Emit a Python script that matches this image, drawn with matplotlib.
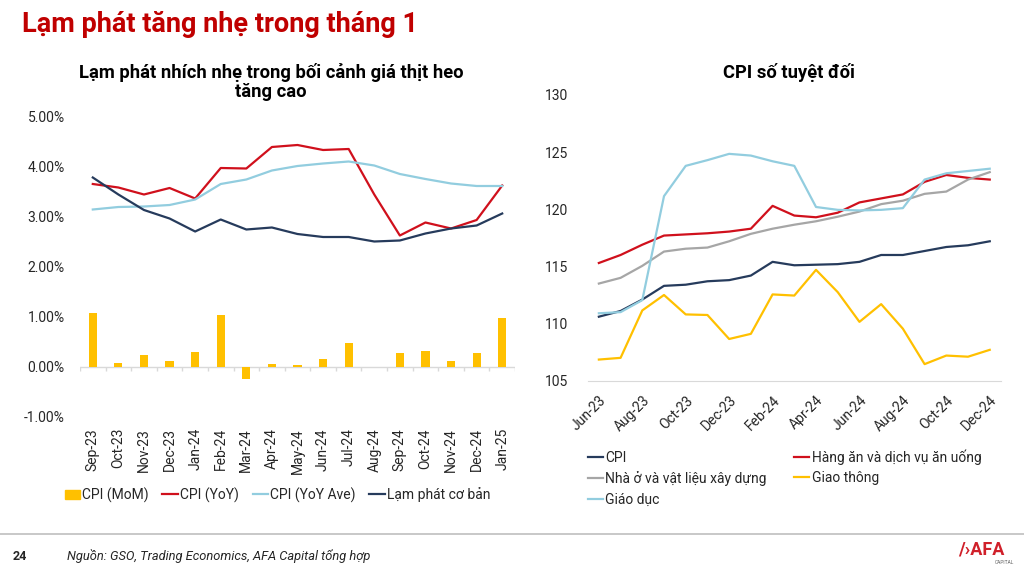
import numpy as np
import matplotlib
matplotlib.use("Agg")
import matplotlib.pyplot as plt
from matplotlib.patches import Patch
from matplotlib.lines import Line2D

plt.rcParams['font.family'] = ['Roboto', 'DejaVu Sans']

# ---- left chart data (%) ----
months_left = ['Sep-23', 'Oct-23', 'Nov-23', 'Dec-23', 'Jan-24', 'Feb-24', 'Mar-24',
               'Apr-24', 'May-24', 'Jun-24', 'Jul-24', 'Aug-24', 'Sep-24', 'Oct-24',
               'Nov-24', 'Dec-24', 'Jan-25']
cpi_mom = [1.08, 0.08, 0.25, 0.12, 0.31, 1.04, -0.23, 0.07, 0.05, 0.17, 0.48, 0.00,
           0.29, 0.33, 0.13, 0.29, 0.98]
cpi_yoy = [3.66, 3.59, 3.45, 3.58, 3.37, 3.98, 3.97, 4.40, 4.44, 4.34, 4.36, 3.45,
           2.63, 2.89, 2.77, 2.94, 3.63]
cpi_yoy_ave = [3.15, 3.20, 3.21, 3.24, 3.35, 3.66, 3.75, 3.93, 4.02, 4.07, 4.11, 4.03,
               3.86, 3.76, 3.67, 3.62, 3.62]
core_infl = [3.79, 3.45, 3.14, 2.97, 2.71, 2.95, 2.75, 2.79, 2.66, 2.60, 2.60, 2.51,
             2.53, 2.67, 2.77, 2.83, 3.07]

# ---- right chart data (index) ----
months_right = ['Jun-23', 'Jul-23', 'Aug-23', 'Sep-23', 'Oct-23', 'Nov-23', 'Dec-23',
                'Jan-24', 'Feb-24', 'Mar-24', 'Apr-24', 'May-24', 'Jun-24', 'Jul-24',
                'Aug-24', 'Sep-24', 'Oct-24', 'Nov-24', 'Dec-24']
cpi_idx = [110.6, 111.1, 112.1, 113.3, 113.4, 113.7, 113.8, 114.2, 115.4, 115.1,
           115.15, 115.2, 115.4, 116.0, 116.0, 116.35, 116.7, 116.85, 117.2]
food_idx = [115.3, 116.0, 116.9, 117.7, 117.8, 117.9, 118.05, 118.3, 120.3, 119.45,
            119.3, 119.7, 120.6, 120.95, 121.3, 122.4, 123.0, 122.75, 122.6]
housing_idx = [113.5, 114.0, 115.05, 116.3, 116.55, 116.65, 117.2, 117.85, 118.3, 118.65,
               118.95, 119.35, 119.8, 120.45, 120.75, 121.35, 121.55, 122.6, 123.25]
transport_idx = [106.85, 107.0, 111.15, 112.5, 110.8, 110.75, 108.65, 109.1, 112.55, 112.45,
                 114.7, 112.75, 110.15, 111.7, 109.55, 106.45, 107.2, 107.1, 107.7]
education_idx = [110.9, 111.0, 112.05, 121.15, 123.8, 124.3, 124.85, 124.7, 124.2, 123.8,
                 120.2, 119.95, 119.9, 119.95, 120.1, 122.6, 123.15, 123.35, 123.55]

RED = '#D0101C'
NAVY = '#263B5C'
LBLUE = '#92CDDF'
YELLOW = '#FFC000'
GRAY = '#A6A6A6'
TXT = '#262626'

W, H = 1024, 569
fig = plt.figure(figsize=(W / 100, H / 100), dpi=100)

def fx(px):
    return px / W

def fy(py):
    return 1 - py / H

# header / footer
fig.text(fx(22), fy(25), 'Lạm phát tăng nhẹ trong tháng 1', color='#C00000',
         fontsize=19.5, fontweight='bold', va='center', ha='left')
fig.add_artist(Line2D([0, 1], [fy(534), fy(534)], color='#BFBFBF', lw=1.2))
fig.text(fx(13), fy(556), '24', fontsize=9, fontweight='bold', color=TXT, va='center')
fig.text(fx(67), fy(556), 'Nguồn: GSO, Trading Economics, AFA Capital tổng hợp',
         fontsize=9.3, fontstyle='italic', color=TXT, va='center')
fig.text(fx(958), fy(549), '/›AFA', fontsize=13, fontweight='bold', color='#D0202A',
         va='center', ha='left')
fig.text(fx(1014), fy(563), 'CAPITAL', fontsize=3.5, color='#666666', va='center', ha='right')

# ---- left chart ----
ax1 = fig.add_axes([fx(80), fy(417), fx(435), 300 / H])
x1 = np.arange(len(months_left))
ax1.bar(x1, cpi_mom, width=0.32, color=YELLOW, zorder=2)
ax1.plot(x1, cpi_yoy, color=RED, lw=1.6, zorder=3)
ax1.plot(x1, cpi_yoy_ave, color=LBLUE, lw=1.6, zorder=3)
ax1.plot(x1, core_infl, color=NAVY, lw=1.6, zorder=3)
ax1.axhline(0, color='#D9D9D9', lw=1, zorder=1)
ax1.vlines(np.arange(-0.5, len(months_left)), -0.08, 0, color='#D9D9D9', lw=1)
ax1.set_xlim(-0.5, len(months_left) - 0.5)
ax1.set_ylim(-1, 5)
ax1.set_yticks(np.arange(-1, 5.01, 1))
ax1.set_yticklabels([f'{v:.2f}%' for v in np.arange(-1, 5.01, 1)])
ax1.set_xticks(x1)
ax1.set_xticklabels(months_left, rotation=90)
ax1.tick_params(axis='both', length=0, labelsize=10, colors=TXT)
ax1.tick_params(axis='y', pad=11)
ax1.tick_params(axis='x', pad=8)
for s in ax1.spines.values():
    s.set_visible(False)
fig.text(fx(271), fy(72), 'Lạm phát nhích nhẹ trong bối cảnh giá thịt heo',
         fontsize=13.2, fontweight='bold', ha='center', va='center', color='black')
fig.text(fx(271), fy(92), 'tăng cao', fontsize=13.2, fontweight='bold',
         ha='center', va='center', color='black')

h1 = [Patch(color=YELLOW), Line2D([], [], color=RED, lw=1.6),
      Line2D([], [], color=LBLUE, lw=1.6), Line2D([], [], color=NAVY, lw=1.6)]
l1 = ['CPI (MoM)', 'CPI (YoY)', 'CPI (YoY Ave)', 'Lạm phát cơ bản']
fig.legend(h1, l1, loc='center left', bbox_to_anchor=(fx(52), fy(495)), ncol=4,
           frameon=False, fontsize=10, handlelength=1.1, handletextpad=0.15,
           columnspacing=1.0, labelcolor=TXT)

# ---- right chart ----
ax2 = fig.add_axes([fx(588), fy(380.7), fx(412.6), 285.7 / H])
x2 = np.arange(len(months_right))
ax2.plot(x2, cpi_idx, color=NAVY, lw=1.6, label='CPI')
ax2.plot(x2, food_idx, color=RED, lw=1.6, label='Hàng ăn và dịch vụ ăn uống')
ax2.plot(x2, housing_idx, color=GRAY, lw=1.6, label='Nhà ở và vật liệu xây dựng')
ax2.plot(x2, transport_idx, color=YELLOW, lw=1.6, label='Giao thông')
ax2.plot(x2, education_idx, color=LBLUE, lw=1.6, label='Giáo dục')
ax2.set_xlim(-0.5, len(months_right) - 0.5)
ax2.set_ylim(105, 130)
ax2.set_yticks(np.arange(105, 131, 5))
ax2.set_xticks(x2[::2])
ax2.set_xticklabels(months_right[::2], rotation=45, ha='right', va='top',
                    rotation_mode='anchor')
ax2.tick_params(axis='both', length=0, labelsize=10, colors=TXT)
ax2.tick_params(axis='y', pad=14)
ax2.tick_params(axis='x', pad=9)
for k in ['top', 'right', 'left']:
    ax2.spines[k].set_visible(False)
ax2.spines['bottom'].set_color('#D9D9D9')
fig.text(fx(789), fy(72), 'CPI số tuyệt đối', fontsize=13.2, fontweight='bold',
         ha='center', va='center', color='black')

hs, ls = ax2.get_legend_handles_labels()
order = [0, 2, 4, 1, 3]
fig.legend([hs[i] for i in order], [ls[i] for i in order], loc='upper left',
           bbox_to_anchor=(fx(575), fy(437)), ncol=2, frameon=False, fontsize=10,
           handlelength=1.1, handletextpad=0.15, columnspacing=2.0,
           labelspacing=0.45, labelcolor=TXT)

fig.savefig('out.png', dpi=100)
